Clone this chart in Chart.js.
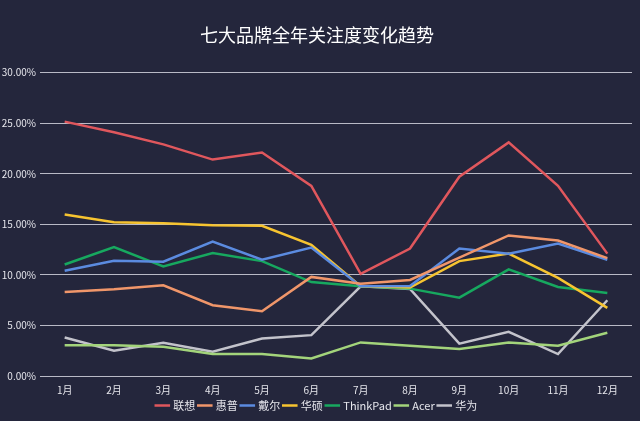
<!DOCTYPE html>
<html lang="zh">
<head>
<meta charset="utf-8">
<title>七大品牌全年关注度变化趋势</title>
<script src="https://cdn.jsdelivr.net/npm/chart.js@4.4.0/dist/chart.umd.min.js"></script>
<style>
    html, body { margin: 0; padding: 0; background: #24263c; }
    #wrap { width: 640px; height: 421px; position: relative; }
</style>
</head>
<body>
<div id="wrap"><canvas id="myChart"></canvas></div>
<script>
// months on the x axis
const months = ['1月','2月','3月','4月','5月','6月','7月','8月','9月','10月','11月','12月'];

// share of attention, in percent
const lenovo   = [25.15, 24.1, 22.9, 21.4, 22.1, 18.8, 10.1, 12.6, 19.7, 23.1, 18.8, 12.1];
const hp       = [8.3, 8.57, 8.97, 7.0, 6.4, 9.8, 9.13, 9.5, 11.7, 13.9, 13.4, 11.65];
const dell     = [10.4, 11.4, 11.3, 13.3, 11.5, 12.7, 8.87, 8.9, 12.6, 12.1, 13.1, 11.5];
const asus     = [15.96, 15.2, 15.1, 14.9, 14.85, 12.96, 8.87, 8.74, 11.36, 12.1, 9.7, 6.73];
const thinkpad = [11.03, 12.74, 10.84, 12.15, 11.36, 9.29, 8.87, 8.64, 7.75, 10.54, 8.8, 8.2];
const acer     = [3.05, 3.05, 2.89, 2.17, 2.17, 1.74, 3.32, 3.0, 2.66, 3.32, 3.0, 4.27];
const huawei   = [3.81, 2.5, 3.28, 2.4, 3.71, 4.04, 8.87, 8.6, 3.2, 4.37, 2.17, 7.49];

const brandNames  = ['联想', '惠普', '戴尔', '华硕', 'ThinkPad', 'Acer', '华为'];
const brandColors = ['#e0575d', '#f0966a', '#5b8be0', '#f7c430', '#17a85f', '#a3d47b', '#c3c3cb'];
const series = [lenovo, hp, dell, asus, thinkpad, acer, huawei];

const fontFamily = '"Noto Sans CJK SC", "Noto Sans", sans-serif';

let datasets = series.map((vals, i) => ({
    label: brandNames[i],
    data: vals,
    borderColor: brandColors[i],
    backgroundColor: brandColors[i],
    borderWidth: 2.5,
    pointRadius: 0,
    pointHoverRadius: 0,
    tension: 0,
    fill: false
}));

var ctx = document.getElementById('myChart').getContext('2d');
var myChart = new Chart(ctx, {
    type: 'line',
    data: { labels: months, datasets: datasets },
    options: {
        responsive: true,
        maintainAspectRatio: false,
        animation: false,
        layout: { padding: { left: 2, right: 8, top: 18, bottom: 0 } },
        plugins: {
            title: {
                display: true,
                text: '七大品牌全年关注度变化趋势',
                color: '#ffffff',
                font: { family: fontFamily, size: 18, weight: 'normal' },
                padding: { top: 6, bottom: 27 }
            },
            legend: {
                position: 'bottom',
                labels: {
                    color: '#e6e6ec',
                    font: { family: fontFamily, size: 11 },
                    usePointStyle: true,
                    pointStyle: 'line',
                    boxWidth: 20,
                    padding: 4
                }
            },
            tooltip: { enabled: false }
        },
        scales: {
            x: {
                offset: true,
                grid: { display: false },
                border: { display: false },
                ticks: {
                    color: '#e6e6ec',
                    font: { family: fontFamily, size: 10 },
                    padding: 0,
                    maxRotation: 0
                }
            },
            y: {
                min: 0,
                max: 30,
                grid: { color: '#b9bac6', lineWidth: 1, drawTicks: false },
                border: { display: false },
                afterFit: (axis) => { axis.width = 38; },
                ticks: {
                    stepSize: 5,
                    color: '#e6e6ec',
                    font: { family: fontFamily, size: 10 },
                    padding: 4,
                    callback: (v) => v.toFixed(2) + '%'
                }
            }
        }
    }
});
</script>
</body>
</html>
